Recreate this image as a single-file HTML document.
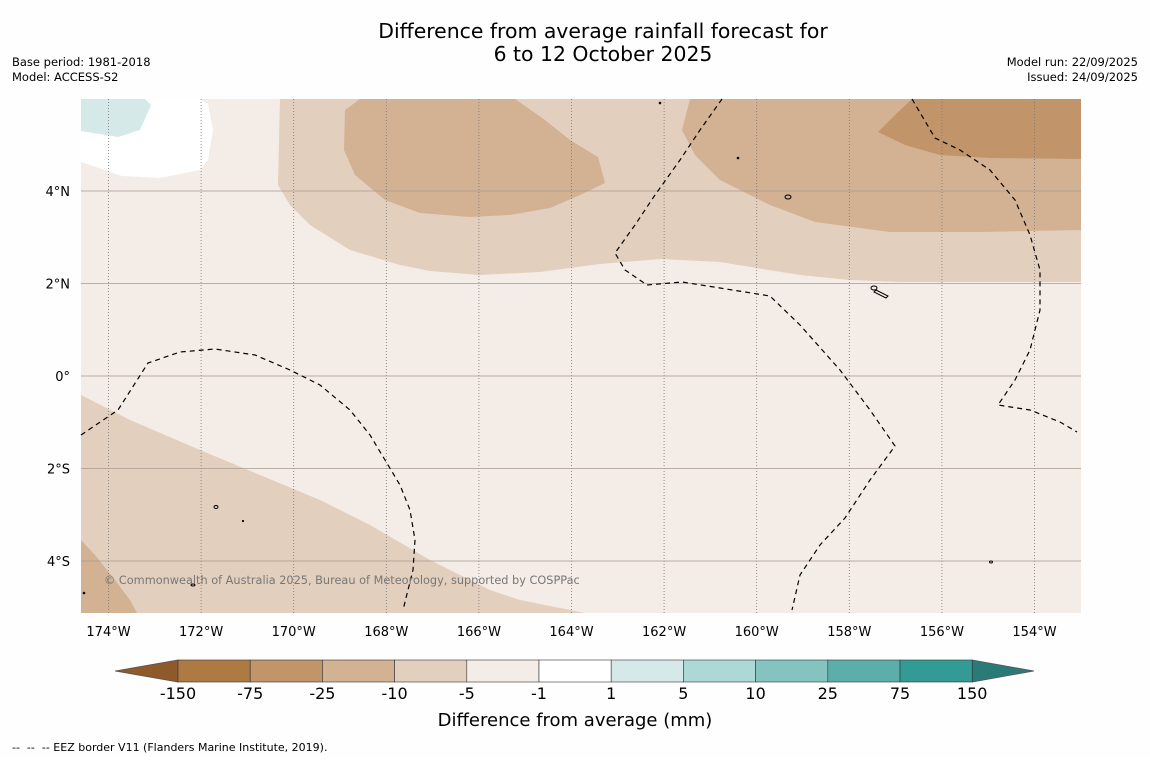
<!DOCTYPE html>
<html><head><meta charset="utf-8"><style>
body{margin:0;background:#fff;width:1150px;height:758px;overflow:hidden;font-family:"Liberation Sans","DejaVu Sans",sans-serif}
</style></head><body>
<svg id="c" width="1150" height="758" xmlns="http://www.w3.org/2000/svg" font-family="DejaVu Sans, Liberation Sans, sans-serif">
<rect width="1150" height="758" fill="#fefefe"/>
<text x="603" y="38" font-size="20.4" text-anchor="middle">Difference from average rainfall forecast for</text>
<text x="603" y="61" font-size="20.4" text-anchor="middle">6 to 12 October 2025</text>
<text x="12" y="66" font-size="11.5">Base period: 1981-2018</text>
<text x="12" y="81" font-size="11.5">Model: ACCESS-S2</text>
<text x="1138" y="66" font-size="11.5" text-anchor="end">Model run: 22/09/2025</text>
<text x="1138" y="81" font-size="11.5" text-anchor="end">Issued: 24/09/2025</text>
<g>
<rect x="81" y="99" width="1000" height="514" fill="#f4ece6"/>
<polygon fill="#ffffff" points="81,99 200,99 208,104 213,130 208,160 200,170 160,178 122,176 81,162"/>
<polygon fill="#d4e9e8" points="81,99 145,99 151,105 140,130 118,137 81,131"/>
<polygon fill="#e3cfbe" points="280,99 278,185 290,205 310,225 350,250 400,265 430,271 480,275 540,272 600,264 660,259 720,262 800,275 850,280 900,282 1081,282 1081,99"/>
<polygon fill="#d3b193" points="360,99 345,110 344,150 355,175 385,200 420,213 470,217 510,215 550,208 580,195 605,183 598,157 570,140 545,120 515,99"/>
<polygon fill="#d3b193" points="690,99 682,130 695,155 720,180 770,205 815,222 890,232 980,232 1081,230 1081,99"/>
<polygon fill="#c19469" points="912,99 895,115 878,132 905,145 940,155 990,158 1081,159 1081,99"/>
<polygon fill="#e3cfbe" points="81,395 130,420 200,450 260,475 320,500 370,525 430,560 490,590 520,600 585,613 81,613"/>
<polygon fill="#d3b193" points="81,540 95,555 115,580 130,600 137,613 81,613"/>
<g id="grid"></g>
<g fill="none" stroke="#000" stroke-width="1.2" stroke-dasharray="5,4">
<polyline points="81,435 118,410 148,363 180,352 215,349 255,355 290,370 320,385 350,410 370,435 385,460 400,485 410,510 415,540 413,570 403,610"/>
<polyline points="722,99 700,130 680,160 655,195 635,225 615,253 625,270 647,285 682,282 720,288 770,296 800,325 840,370 870,410 895,446 870,480 845,518 820,545 800,575 792,610"/>
<polyline points="912,99 935,138 960,150 990,170 1015,200 1030,235 1040,270 1040,310 1030,350 1015,380 998,405 1030,410 1060,422 1077,432"/>
</g>
<g fill="none" stroke="#000" stroke-width="1">
<ellipse cx="788" cy="197" rx="3" ry="2"/><ellipse cx="874" cy="288" rx="3" ry="2"/><path d="M876,290 L888,296 L886,298 L874,292Z"/>
<ellipse cx="216" cy="507" rx="2" ry="1.5"/><ellipse cx="193" cy="585" rx="2" ry="1"/><ellipse cx="991" cy="562" rx="1.5" ry="1"/>
<circle cx="660" cy="103" r="0.8"/><circle cx="738" cy="158" r="0.8"/><circle cx="243" cy="521" r="0.6"/><circle cx="84" cy="593" r="0.8"/>
</g>
<text x="104" y="584" font-size="11.3" fill="#777">© Commonwealth of Australia 2025, Bureau of Meteorology, supported by COSPPac</text>
</g>
<g id="axes"></g>
<g id="cbar"></g>
<text x="575" y="726" font-size="18" text-anchor="middle">Difference from average (mm)</text>
<text x="12" y="751" font-size="11" xml:space="preserve">--  --  -- EEZ border V11 (Flanders Marine Institute, 2019).</text>
</svg>
<script>
const lonTicks=[-174,-172,-170,-168,-166,-164,-162,-160,-158,-156,-154];
const latTicks=[4,2,0,-2,-4];
const cbarTicks=["-150","-75","-25","-10","-5","-1","1","5","10","25","75","150"];
const cbarColors=["#ae7a44","#c19469","#d3b193","#e3cfbe","#f4ece6","#ffffff","#d4e9e8","#acd8d6","#84c3c0","#5caeab","#339a96"];
const NS="http://www.w3.org/2000/svg";
function xLon(l){return 108.5+(l+174)*46.3;}
function yLat(l){return 376+(-l)*46.25;}
function mk(t,a,p){const e=document.createElementNS(NS,t);for(const k in a)e.setAttribute(k,a[k]);p.appendChild(e);return e;}
const g=document.getElementById('grid'),ax=document.getElementById('axes');
lonTicks.forEach(l=>{const x=xLon(l);
const ln=mk('line',{x1:x,x2:x,y1:99,y2:613,stroke:'#777','stroke-width':0.8,'stroke-dasharray':'1,2'},g);


const t=mk('text',{x:x,y:636,'font-size':13,'text-anchor':'middle'},ax);t.textContent=Math.abs(l)+'°W';

});
latTicks.forEach(l=>{const y=yLat(l);
const ln=mk('line',{x1:81,x2:1081,y1:y,y2:y,stroke:'#a89a90','stroke-width':0.8},g);


const t=mk('text',{x:70,y:y+5,'font-size':13,'text-anchor':'end'},ax);t.textContent=l===0?'0°':Math.abs(l)+'°'+(l>0?'N':'S');

});
const cb=document.getElementById('cbar');const x0=178,w=72.2,y0=660,h=22;
const lt=mk('polygon',{points:`115,671 ${x0},${y0} ${x0},${y0+h}`,fill:'#8f5a2a',stroke:'#555','stroke-width':0.8},cb);


const xe=x0+w*cbarColors.length;
const rt=mk('polygon',{points:`${xe},${y0} 1034,671 ${xe},${y0+h}`,fill:'#2a7b78',stroke:'#555','stroke-width':0.8},cb);


cbarColors.forEach((c,i)=>{const r=mk('rect',{x:x0+i*w,y:y0,width:w,height:h,fill:c,stroke:'#333','stroke-width':0.6},cb);

});
cbarTicks.forEach((s,i)=>{const t=mk('text',{x:x0+i*w,y:699,'font-size':16,'text-anchor':'middle'},cb);t.textContent=s;

});
</script>
</body></html>
